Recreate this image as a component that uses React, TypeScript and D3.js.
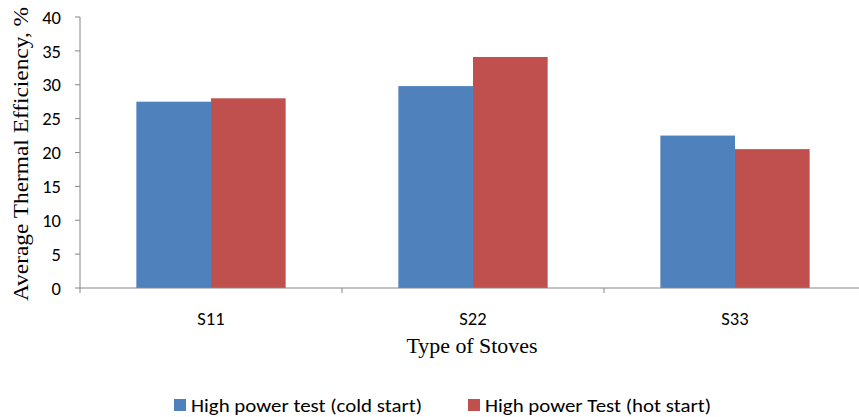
import React from "react";
import * as d3 from "d3";

const categories = ["S11", "S22", "S33"];
const seriesNames = ["High power test (cold start)", "High power Test (hot start)"];
const coldStart = [27.5, 29.8, 22.5];
const hotStart = [28.0, 34.1, 20.5];
const yTicks = [0, 5, 10, 15, 20, 25, 30, 35, 40];
const colors = ["#4F81BD", "#C0504D"];

const W = 859;
const H = 417;
const left = 80;
const right = 866;
const top = 17;
const bottom = 288;

export default function App() {
  const y = d3.scaleLinear().domain([0, 40]).range([bottom, top]);
  const x0 = d3.scaleBand<string>().domain(categories).range([left, right]).padding(0);
  const x1 = d3
    .scaleBand<string>()
    .domain(seriesNames)
    .range([0, x0.bandwidth()])
    .paddingInner(0)
    .paddingOuter(0.755);
  const values = [coldStart, hotStart];
  const tickFont = "Carlito, Lato, 'Open Sans', sans-serif";
  const legendLen = [231, 226];

  return (
    <svg width={W} height={H} style={{ position: "absolute", left: 0, top: 0, background: "#fff" }}>
      {categories.map((c, i) =>
        seriesNames.map((s, j) => (
          <rect
            key={c + s}
            x={(x0(c) as number) + (x1(s) as number)}
            y={y(values[j][i])}
            width={x1.bandwidth()}
            height={bottom - y(values[j][i])}
            fill={colors[j]}
          />
        ))
      )}
      {/* Y axis */}
      <line x1={left} x2={left} y1={top} y2={bottom} stroke="#868686" strokeWidth={1} />
      {yTicks.map((t) => (
        <g key={t}>
          <line x1={left - 5} x2={left} y1={y(t)} y2={y(t)} stroke="#868686" />
          <text
            x={61}
            y={y(t)}
            dy="0.36em"
            textAnchor="end"
            fontFamily={tickFont}
            fontSize={18.5}
            fill="#000"
          >
            {t}
          </text>
        </g>
      ))}
      {/* X axis */}
      <line x1={left} x2={W} y1={bottom} y2={bottom} stroke="#868686" strokeWidth={1} />
      {[...categories.map((c) => x0(c) as number), right].map((xv, i) => (
        <line key={i} x1={xv} x2={xv} y1={bottom} y2={bottom + 5} stroke="#868686" />
      ))}
      {categories.map((c) => (
        <text
          key={c}
          x={(x0(c) as number) + x0.bandwidth() / 2}
          y={325}
          textAnchor="middle"
          fontFamily={tickFont}
          fontSize={18.5}
          fill="#000"
        >
          {c}
        </text>
      ))}
      <text
        x={472}
        y={353}
        textAnchor="middle"
        fontFamily="'Liberation Serif', 'Times New Roman', serif"
        fontSize={21}
        textLength={131}
        lengthAdjust="spacingAndGlyphs"
        fill="#000"
      >
        Type of Stoves
      </text>
      <text
        transform={`translate(28, 154) rotate(-90)`}
        textAnchor="middle"
        fontFamily="'Liberation Serif', 'Times New Roman', serif"
        fontSize={21}
        textLength={294}
        lengthAdjust="spacingAndGlyphs"
        fill="#000"
      >
        Average Thermal Efficiency, %
      </text>
      {/* Legend */}
      {seriesNames.map((s, j) => {
        const lx = [174, 468][j];
        return (
          <g key={s}>
            <rect x={lx} y={399} width={12} height={12} fill={colors[j]} />
            <text
              x={lx + 17}
              y={411.5}
              fontFamily={tickFont}
              fontSize={18.5}
              textLength={legendLen[j]}
              lengthAdjust="spacingAndGlyphs"
              fill="#000"
            >
              {s}
            </text>
          </g>
        );
      })}
    </svg>
  );
}
